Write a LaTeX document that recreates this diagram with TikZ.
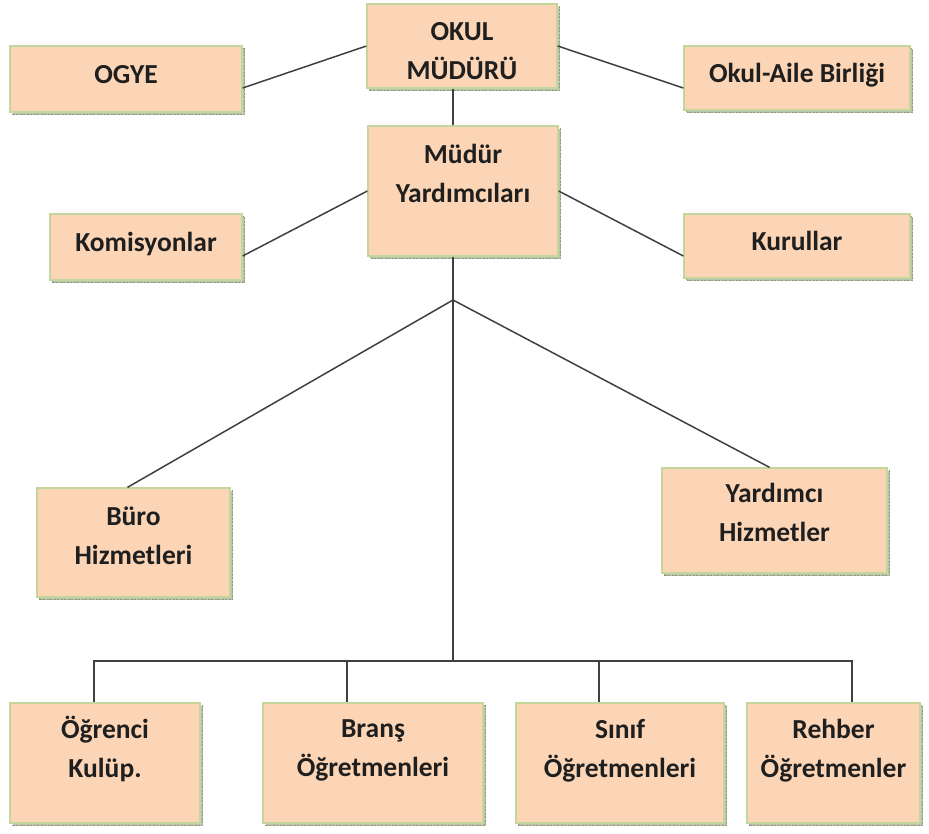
\documentclass[tikz,border=0pt]{standalone}
\usepackage{fontspec}
\setmainfont{Carlito}
\usetikzlibrary{shadows}
\definecolor{boxfill}{HTML}{FBD5B5}
\definecolor{boxline}{HTML}{C3D69B}
\definecolor{shadowcol}{HTML}{8E9A78}
\definecolor{linkcol}{HTML}{404040}
\newcommand\orgfont{\bfseries\fontsize{27.5}{39}\selectfont}
\begin{document}
\begin{tikzpicture}[x=1pt,y=-1pt,
  box/.style={draw=boxline, fill=boxfill, line width=1.3pt, align=center, font=\orgfont, text=black!88, inner sep=0pt,
    general shadow={fill=shadowcol!60, draw=shadowcol, dash pattern=on 2pt off 1.5pt, line width=1pt, shadow xshift=2.5pt, shadow yshift=-2.5pt}},
  oneline/.style={text height=17.5pt, text depth=8pt},
  link/.style={draw=linkcol, line width=1.5pt}]
\useasboundingbox (0,0) rectangle (929,833);
\node[box, minimum width=190, minimum height=84, text height=67pt] (okul) at (462,46) {OKUL\\MÜDÜRÜ};
\node[box, oneline, minimum width=232, minimum height=66] (ogye) at (126,79) {OGYE};
\node[box, oneline, minimum width=226, minimum height=64] (aile) at (797,78) {Okul-Aile Birliği};
\node[box, minimum width=190, minimum height=130, text depth=36pt] (mudyrd) at (463,191) {Müdür\\Yardımcıları};
\node[box, oneline, minimum width=192, minimum height=66] (komis) at (146,247) {Komisyonlar};
\node[box, oneline, minimum width=226, minimum height=64] (kurul) at (797,246) {Kurullar};
\node[box, minimum width=193, minimum height=109, text depth=14pt] (buro) at (133.5,542.5) {Büro\\Hizmetleri};
\node[box, minimum width=225, minimum height=105, text depth=16pt] (yrdhiz) at (774.5,520.5) {Yardımcı\\Hizmetler};
\node[box, minimum width=190, minimum height=120, text depth=33pt] (ogr) at (105,763) {Öğrenci\\Kulüp.};
\node[box, minimum width=220, minimum height=120, text depth=30pt] (brans) at (373,763) {Branş\\Öğretmenleri};
\node[box, minimum width=208, minimum height=120, text depth=30pt] (sinif) at (620,763) {Sınıf\\Öğretmenleri};
\node[box, minimum width=173, minimum height=120, text depth=30pt] (rehber) at (833.5,763) {Rehber\\Öğretmenler};
\coordinate (split) at (453,300);
\coordinate (bus) at (453,661);
\draw[link] ([yshift=-9pt]ogye.east)--(okul.west);
\draw[link] (okul.east)--([yshift=-10pt]aile.west);
\draw[link] ([yshift=-9pt]komis.east)--(mudyrd.west);
\draw[link] (mudyrd.east)--([yshift=-10pt]kurul.west);
\draw[link] ([xshift=-9pt]okul.south)--([xshift=-10pt]mudyrd.north);
\draw[link] ([xshift=-10pt]mudyrd.south)--(bus);
\draw[link] (split)--([xshift=-6pt]buro.north);
\draw[link] (split)--([xshift=-5pt]yrdhiz.north);
\draw[link] (bus)-|([xshift=-11pt]ogr.north);
\draw[link] (bus)-|([xshift=-26pt]brans.north);
\draw[link] (bus)-|([xshift=-21pt]sinif.north);
\draw[link] (bus)-|([xshift=18.5pt]rehber.north);
\end{tikzpicture}
\end{document}
